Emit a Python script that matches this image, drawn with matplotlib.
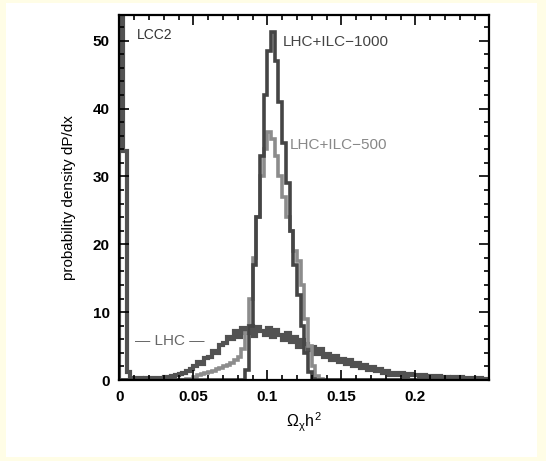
import numpy as np
import matplotlib.pyplot as plt
from matplotlib.patches import Rectangle
from matplotlib.ticker import MultipleLocator

plt.rcParams['font.family'] = ['Liberation Sans', 'DejaVu Sans']
plt.rcParams['mathtext.fontset'] = 'custom'
plt.rcParams['mathtext.rm'] = 'Liberation Sans'
plt.rcParams['mathtext.it'] = 'Liberation Sans'

# histogram bins: 100 bins of width 0.0025 from 0 to 0.25
bin_width = 0.0025
n_bins = 100

lhc = [90.0, 33.8, 1.2, 0.3, 0.2, 0.3, 0.2, 0.3, 0.2, 0.3,
       0.3, 0.3, 0.4, 0.5, 0.6, 0.7, 0.9, 1.1, 1.3, 1.6,
       2.0, 2.6, 2.3, 3.2, 3.4, 4.3, 4.0, 5.1, 5.4, 6.3,
       6.0, 7.2, 6.4, 7.7, 6.9, 7.9, 6.5, 7.8, 7.2, 6.6,
       7.7, 6.3, 7.4, 6.6, 5.9, 7.0, 5.6, 6.4, 4.9, 5.9,
       5.3, 4.4, 4.9, 3.8, 4.5, 3.4, 3.9, 3.0, 3.6, 2.7,
       3.1, 2.4, 2.9, 2.1, 2.5, 1.8, 2.2, 1.5, 1.9, 1.3,
       1.6, 1.0, 1.4, 0.8, 1.1, 0.7, 1.0, 0.6, 0.9, 0.7,
       0.8, 0.5, 0.8, 0.5, 0.6, 0.4, 0.6, 0.4, 0.5, 0.3,
       0.4, 0.3, 0.4, 0.2, 0.3, 0.3, 0.2, 0.3, 0.2, 0.2]

ilc500 = [0.0] * 18 + [
    0.2, 0.2, 0.5, 0.7, 0.9, 1.0, 1.2, 1.4, 1.6, 1.8,
    2.0, 2.2, 2.5, 2.9, 3.4, 4.5, 7.0, 12.0, 18.0, 24.0,
    30.0, 34.0, 36.5, 35.5, 33.0, 30.0, 27.0, 24.0, 22.0, 19.0,
    17.5, 14.0, 9.0, 5.0, 2.0, 0.6, 0.2] + [0.0] * 45

ilc1000 = [0.0] * 34 + [
    1.5, 8.0, 17.0, 24.0, 33.0, 42.0, 48.5, 51.3, 47.0, 41.0,
    35.0, 29.0, 22.0, 17.0, 12.5, 8.0, 4.0, 1.2, 0.2] + [0.0] * 47

edges = np.arange(n_bins + 1) * bin_width

fig = plt.figure(figsize=(5.46, 4.61), dpi=100, facecolor='#fffde6')
fig.patches.append(Rectangle((6 / 546, 4 / 461), 531 / 546, 454 / 461,
                             transform=fig.transFigure, facecolor='white',
                             edgecolor='none', zorder=-1))
ax = fig.add_axes([0.2185, 0.1757, 0.6778, 0.7918])

ax.stairs(lhc, edges, color='#525252', lw=3.0, baseline=0)
ax.stairs(ilc500, edges, color='#8c8c8c', lw=2.6, baseline=0)
ax.stairs(ilc1000, edges, color='#454545', lw=2.6, baseline=0)

ax.set_xlim(0, 0.25)
ax.set_ylim(0, 53.8)
ax.xaxis.set_minor_locator(MultipleLocator(0.01))
ax.yaxis.set_major_locator(MultipleLocator(10))
ax.yaxis.set_minor_locator(MultipleLocator(2))
ax.set_xticks([0, 0.05, 0.1, 0.15, 0.2])
ax.set_xticklabels(['0', '0.05', '0.1', '0.15', '0.2'])
ax.tick_params(which='both', direction='in', top=True, right=True, width=1.2)
ax.tick_params(which='major', length=7, labelsize=11, pad=7)
ax.tick_params(which='minor', length=3.5)
for lab in ax.get_xticklabels() + ax.get_yticklabels():
    lab.set_fontweight('bold')
for s in ax.spines.values():
    s.set_linewidth(1.6)

ax.set_ylabel('probability density dP/dx', fontsize=11, labelpad=12)
ax.set_xlabel(r'$\Omega_\chi h^2$', fontsize=11.5, labelpad=5)

ax.text(0.012, 50.8, 'LCC2', fontsize=10, color='#333333', va='center')
ax.text(0.1106, 49.8, 'LHC+ILC\u22121000', fontsize=11, color='#444444', va='center')
ax.text(0.1153, 34.6, 'LHC+ILC\u2212500', fontsize=11, color='#888888', va='center')
ax.text(0.0343, 5.7, '\u2014 LHC \u2014', fontsize=11, color='#666666', va='center', ha='center')

fig.savefig('out.png', dpi=100, facecolor=fig.get_facecolor())
